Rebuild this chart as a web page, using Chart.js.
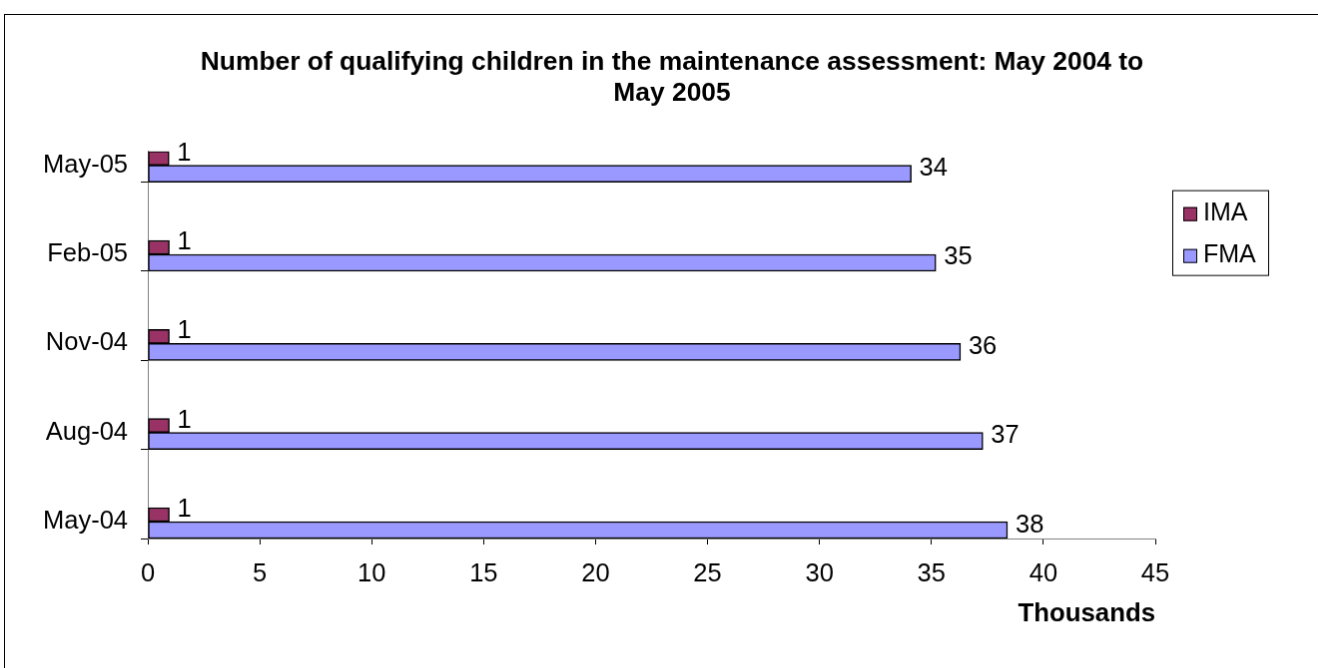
<!DOCTYPE html>
<html>
<head>
<meta charset="utf-8">
<script src="https://cdn.jsdelivr.net/npm/chart.js@4.4.1/dist/chart.umd.min.js"></script>
<style>
  html, body { margin: 0; padding: 0; background: #fff; overflow: hidden; }
  #grafico { position: absolute; left: 4px; top: 14px; border: 1px solid #000; }
</style>
</head>
<body>
<canvas id="grafico" width="1336" height="700"></canvas>
<script>
// ======================
// Dados (de baixo para cima)
// ======================
const categorias = ["May-04", "Aug-04", "Nov-04", "Feb-05", "May-05"];
const valoresIMA = [0.96, 0.96, 0.96, 0.96, 0.95];
const valoresFMA = [38.4, 37.3, 36.3, 35.2, 34.1];
const eixoX = { min: 0, max: 45, passo: 5 };

const fonte = '"Liberation Sans", Arial, sans-serif';
const corIMA = "#993366";
const corFMA = "#9999FF";

// posição da base de cada grupo de barras (em unidades do eixo y)
const desloc = 0.19;

// ======================
// Plugins auxiliares
// ======================

// rótulos de valor ao lado das barras
const rotulosBarras = {
  id: "rotulosBarras",
  afterDatasetsDraw(chart) {
    const ctx = chart.ctx;
    ctx.save();
    ctx.font = `25.5px ${fonte}`;
    ctx.fillStyle = "#000";
    ctx.textAlign = "left";
    ctx.textBaseline = "middle";
    chart.data.datasets.forEach((ds, i) => {
      chart.getDatasetMeta(i).data.forEach((barra, j) => {
        ctx.fillText(String(Math.round(ds.data[j].x)), barra.x + 8, barra.y - 5);
      });
    });
    ctx.restore();
  }
};

// legenda com moldura, no estilo do Excel
const legendaCaixa = {
  id: "legendaCaixa",
  afterDraw(chart) {
    const ctx = chart.ctx;
    const esq = chart.chartArea.right + 17;
    const topo = chart.chartArea.top + 39;
    ctx.save();
    ctx.strokeStyle = "#000";
    ctx.lineWidth = 1;
    ctx.strokeRect(esq + 0.5, topo + 0.5, 96, 85);
    ctx.font = `25px ${fonte}`;
    ctx.textAlign = "left";
    ctx.textBaseline = "middle";
    chart.data.datasets.forEach((ds, i) => {
      const y = topo + 23 + i * 42;
      ctx.fillStyle = ds.backgroundColor;
      ctx.fillRect(esq + 11, y - 6, 14, 14);
      ctx.strokeRect(esq + 11.5, y - 5.5, 13, 13);
      ctx.fillStyle = "#000";
      ctx.fillText(ds.label, esq + 31, y);
    });
    ctx.restore();
  }
};

// ======================
// Gráfico
// ======================
const ctx = document.getElementById("grafico").getContext("2d");

new Chart(ctx, {
  type: "bar",
  data: {
    datasets: [
      {
        label: "IMA",
        data: categorias.map((c, i) => ({ x: valoresIMA[i], y: i })),
        backgroundColor: corIMA,
        borderColor: "#000",
        borderWidth: 1.5,
        borderSkipped: false,
        barThickness: 14
      },
      {
        label: "FMA",
        data: categorias.map((c, i) => ({ x: valoresFMA[i], y: i })),
        backgroundColor: corFMA,
        borderColor: "#000",
        borderWidth: 1.5,
        borderSkipped: false,
        barThickness: 17
      }
    ]
  },
  options: {
    indexAxis: "y",
    responsive: false,
    animation: false,
    devicePixelRatio: 1,
    layout: { padding: { left: 0, right: 0, top: 0, bottom: 83.2 } },
    scales: {
      x: {
        type: "linear",
        min: eixoX.min,
        max: eixoX.max,
        ticks: {
          stepSize: eixoX.passo,
          color: "#000",
          padding: 17,
          font: { family: fonte, size: 25.5, lineHeight: 1 }
        },
        grid: { drawOnChartArea: false, tickLength: 6, tickColor: "#000" },
        border: { color: "#808080", width: 1 },
        title: {
          display: true,
          text: "Thousands",
          align: "end",
          color: "#000",
          padding: { top: 0, bottom: 0 },
          font: { family: fonte, size: 25.8, weight: "bold", lineHeight: 1.2 }
        },
        afterFit: (s) => { s.height = 91.8; }
      },
      y: {
        type: "linear",
        offset: false,
        min: -desloc,
        max: 4.156,
        afterBuildTicks: (s) => {
          s.ticks = categorias.map((c, i) => ({ value: i - desloc }));
        },
        afterFit: (s) => { s.width = 143; },
        ticks: {
          callback: (v, i) => categorias[i],
          labelOffset: -17,
          padding: 13,
          color: "#000",
          autoSkip: false,
          font: { family: fonte, size: 25.5 }
        },
        grid: { offset: false, drawOnChartArea: false, tickLength: 7, tickColor: "#000" },
        border: { color: "#808080", width: 1 }
      },
      // espaço reservado à direita para a legenda
      lado: {
        type: "linear",
        position: "right",
        display: true,
        grid: { display: false },
        border: { display: false },
        ticks: { display: false },
        afterFit: (s) => { s.width = 184; }
      }
    },
    plugins: {
      legend: { display: false },
      tooltip: { enabled: false },
      title: {
        display: true,
        text: ["Number of qualifying children in the maintenance assessment: May 2004 to", "May 2005"],
        color: "#000",
        padding: { top: 31.4, bottom: 41.9 },
        font: { family: fonte, size: 26.4, weight: "bold", lineHeight: 1.2 }
      }
    }
  },
  plugins: [rotulosBarras, legendaCaixa]
});
</script>
</body>
</html>
